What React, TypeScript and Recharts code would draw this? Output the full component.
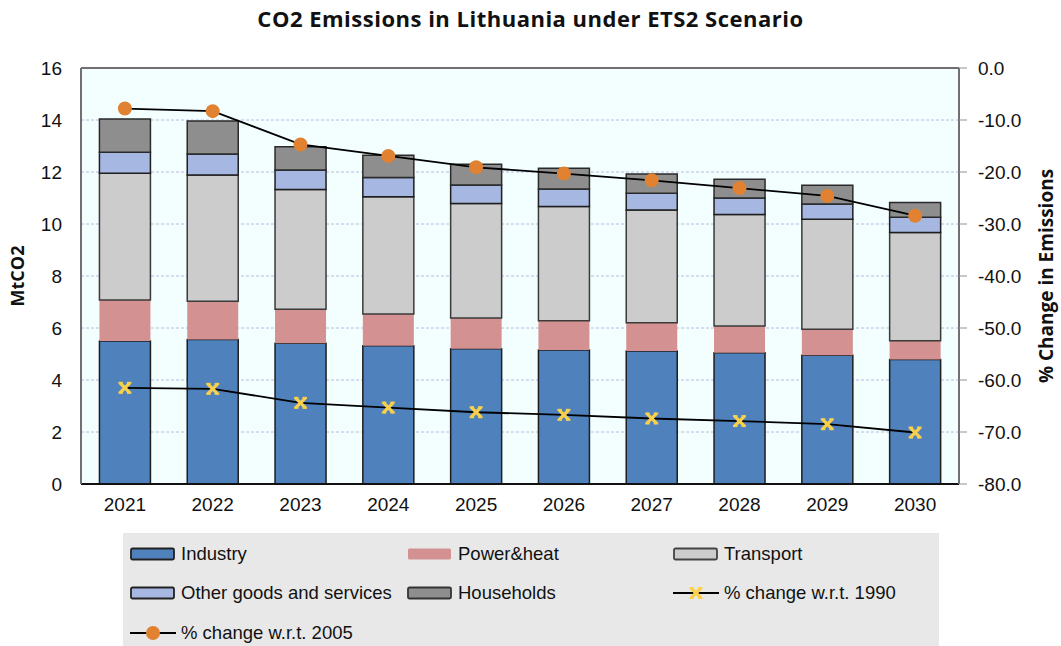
import React from "react";
import {
  ComposedChart,
  Bar,
  Line,
  XAxis,
  YAxis,
  CartesianGrid,
  Legend,
  ReferenceLine,
} from "recharts";

const years = ["2021", "2022", "2023", "2024", "2025", "2026", "2027", "2028", "2029", "2030"];
const industry = [5.5, 5.56, 5.41, 5.32, 5.2, 5.15, 5.12, 5.05, 4.95, 4.79];
const powerHeat = [1.58, 1.47, 1.31, 1.22, 1.18, 1.13, 1.08, 1.03, 1.0, 0.72];
const transport = [4.87, 4.85, 4.61, 4.51, 4.41, 4.39, 4.34, 4.29, 4.23, 4.16];
const otherGoods = [0.81, 0.81, 0.75, 0.74, 0.71, 0.68, 0.64, 0.63, 0.59, 0.59];
const households = [1.28, 1.27, 0.89, 0.85, 0.8, 0.79, 0.74, 0.72, 0.72, 0.57];
const change1990 = [-61.5, -61.7, -64.4, -65.3, -66.2, -66.7, -67.4, -67.9, -68.5, -70.1];
const change2005 = [-7.8, -8.3, -14.7, -16.9, -19.1, -20.3, -21.6, -23.1, -24.6, -28.4];
const leftTicks = [0, 2, 4, 6, 8, 10, 12, 14, 16];
const rightTicks = [-80, -70, -60, -50, -40, -30, -20, -10, 0];

const data = years.map((y, i) => ({
  year: y,
  industry: industry[i],
  power: powerHeat[i],
  transport: transport[i],
  other: otherGoods[i],
  households: households[i],
  c1990: change1990[i],
  c2005: change2005[i],
}));

const C = {
  industry: "#4F81BD",
  power: "#D39191",
  transport: "#CCCCCC",
  other: "#A6B7E2",
  households: "#8E8E8E",
  orange: "#E08232",
  yellow: "#F9D04C",
};

const FONT = "'Liberation Sans', Arial, sans-serif";

const CrossDot = (props: any) => {
  const { cx, cy } = props;
  if (cx == null || cy == null) return null;
  const s = 5;
  return (
    <g stroke={C.yellow} strokeWidth={3.2} strokeLinecap="butt" fill="none">
      <line x1={cx - s} y1={cy - s} x2={cx + s} y2={cy + s} />
      <line x1={cx + s} y1={cy - s} x2={cx - s} y2={cy + s} />
      <line x1={cx - s - 1.5} y1={cy - s} x2={cx - s + 3} y2={cy - s} strokeWidth={2} />
      <line x1={cx + s - 3} y1={cy - s} x2={cx + s + 1.5} y2={cy - s} strokeWidth={2} />
      <line x1={cx - s - 1.5} y1={cy + s} x2={cx - s + 3} y2={cy + s} strokeWidth={2} />
      <line x1={cx + s - 3} y1={cy + s} x2={cx + s + 1.5} y2={cy + s} strokeWidth={2} />
    </g>
  );
};

const OrangeDot = (props: any) => {
  const { cx, cy } = props;
  if (cx == null || cy == null) return null;
  return <circle cx={cx} cy={cy} r={7} fill={C.orange} stroke="none" />;
};

type LegendItem = { label: string; kind: "box" | "cross" | "circle"; fill?: string; stroke?: string; col: number; row: number };
const legendItems: LegendItem[] = [
  { label: "Industry", kind: "box", fill: C.industry, stroke: "#222", col: 0, row: 0 },
  { label: "Power&heat", kind: "box", fill: C.power, stroke: "none", col: 1, row: 0 },
  { label: "Transport", kind: "box", fill: C.transport, stroke: "#444", col: 2, row: 0 },
  { label: "Other goods and services", kind: "box", fill: C.other, stroke: "#222", col: 0, row: 1 },
  { label: "Households", kind: "box", fill: C.households, stroke: "#333", col: 1, row: 1 },
  { label: "% change w.r.t. 1990", kind: "cross", col: 2, row: 1 },
  { label: "% change w.r.t. 2005", kind: "circle", col: 0, row: 2 },
];
const colX = [7, 284, 550];
const rowY = [20.5, 60, 100];

const LegendContent = () => (
  <div style={{ position: "relative", width: 816, height: 113, background: "#E8E8E8", fontFamily: FONT }}>
    {legendItems.map((it) => {
      const x = colX[it.col];
      const y = rowY[it.row];
      return (
        <div key={it.label} style={{ position: "absolute", left: x, top: y - 12, height: 24, display: "flex", alignItems: "center" }}>
          <svg width={46} height={24} style={{ display: "block" }}>
            {it.kind === "box" && (
              <rect x={1} y={6.5} width={43} height={11} rx={1.5} fill={it.fill} stroke={it.stroke} strokeWidth={it.stroke === "none" ? 0 : 1.8} />
            )}
            {it.kind !== "box" && <line x1={0} y1={12} x2={46} y2={12} stroke="#000" strokeWidth={2} />}
            {it.kind === "circle" && <circle cx={23} cy={12} r={7} fill={C.orange} />}
            {it.kind === "cross" && <CrossDot cx={23} cy={12} />}
          </svg>
          <span style={{ marginLeft: 5, fontSize: 18.5, color: "#111", whiteSpace: "nowrap" }}>{it.label}</span>
        </div>
      );
    })}
  </div>
);

export default function App() {
  return (
    <div style={{ position: "absolute", left: 0, top: 0, width: 1061, height: 646, background: "#fff" }}>
      <div
        style={{
          position: "absolute",
          left: 0,
          top: 3,
          width: 1061,
          textAlign: "center",
          fontFamily: "'Open Sans', sans-serif",
          fontWeight: 700,
          fontSize: 22,
          letterSpacing: 0.5,
          color: "#111",
        }}
      >
        CO2 Emissions in Lithuania under ETS2 Scenario
      </div>
      <ComposedChart
        width={1061}
        height={646}
        data={data}
        margin={{ top: 68, right: 12, left: 11, bottom: 132 }}
        barCategoryGap="21%"
        style={{ position: "absolute", left: 0, top: 0 }}
      >
        <CartesianGrid
          vertical={false}
          stroke="#B6BBDD"
          strokeDasharray="3 2"
          fill="#F3FFFF"
          yAxisId="left"
        />
        <XAxis
          dataKey="year"
          axisLine={{ stroke: "#111", strokeWidth: 2 }}
          tickLine={false}
          tickSize={0}
          tickMargin={14}
          height={30}
          tick={{ fill: "#111", fontSize: 19, fontFamily: FONT }}
          interval={0}
        />
        <YAxis
          yAxisId="left"
          domain={[0, 16]}
          ticks={leftTicks}
          width={70}
          axisLine={{ stroke: "#707070", strokeWidth: 2 }}
          tickLine={false}
          tickSize={0}
          tickMargin={19}
          tick={{ fill: "#111", fontSize: 19, fontFamily: FONT }}
          label={{
            value: "MtCO2",
            angle: -90,
            position: "insideLeft",
            offset: 7,
            style: { textAnchor: "middle", fontFamily: "'Open Sans', sans-serif", fontWeight: 700, fontSize: 18, fill: "#111" },
          }}
        />
        <YAxis
          yAxisId="right"
          orientation="right"
          domain={[-80, 0]}
          ticks={rightTicks}
          width={90}
          axisLine={{ stroke: "#707070", strokeWidth: 2 }}
          tickLine={{ stroke: "#909090" }}
          tickSize={8}
          tickMargin={11}
          tickFormatter={(v: number) => v.toFixed(1)}
          tick={{ fill: "#111", fontSize: 19, fontFamily: FONT }}
          label={{
            value: "% Change in Emissions",
            angle: -90,
            position: "insideRight",
            offset: 3,
            style: { textAnchor: "middle", fontFamily: "'Open Sans', sans-serif", fontWeight: 700, fontSize: 19, fill: "#111" },
          }}
        />
        <ReferenceLine yAxisId="left" y={16} stroke="#707070" strokeWidth={2} />
        <Bar dataKey="industry" name="Industry" stackId="s" yAxisId="left" fill={C.industry} stroke="#1E1E1E" strokeWidth={1.5} isAnimationActive={false} />
        <Bar dataKey="power" name="Power&heat" stackId="s" yAxisId="left" fill={C.power} isAnimationActive={false} />
        <Bar dataKey="transport" name="Transport" stackId="s" yAxisId="left" fill={C.transport} stroke="#3A3A3A" strokeWidth={1.5} isAnimationActive={false} />
        <Bar dataKey="other" name="Other goods and services" stackId="s" yAxisId="left" fill={C.other} stroke="#1E1E1E" strokeWidth={1.5} isAnimationActive={false} />
        <Bar dataKey="households" name="Households" stackId="s" yAxisId="left" fill={C.households} stroke="#2A2A2A" strokeWidth={1.5} isAnimationActive={false} />
        <Line dataKey="c1990" name="% change w.r.t. 1990" yAxisId="right" type="linear" stroke="#000" strokeWidth={1.8} dot={<CrossDot />} activeDot={false} isAnimationActive={false} />
        <Line dataKey="c2005" name="% change w.r.t. 2005" yAxisId="right" type="linear" stroke="#000" strokeWidth={1.8} dot={<OrangeDot />} activeDot={false} isAnimationActive={false} />
        <Legend
          layout="horizontal"
          verticalAlign="middle"
          align="center"
          content={<LegendContent />}
          wrapperStyle={{ left: 123, top: 533, width: 816, height: 113 }}
        />
      </ComposedChart>
    </div>
  );
}
